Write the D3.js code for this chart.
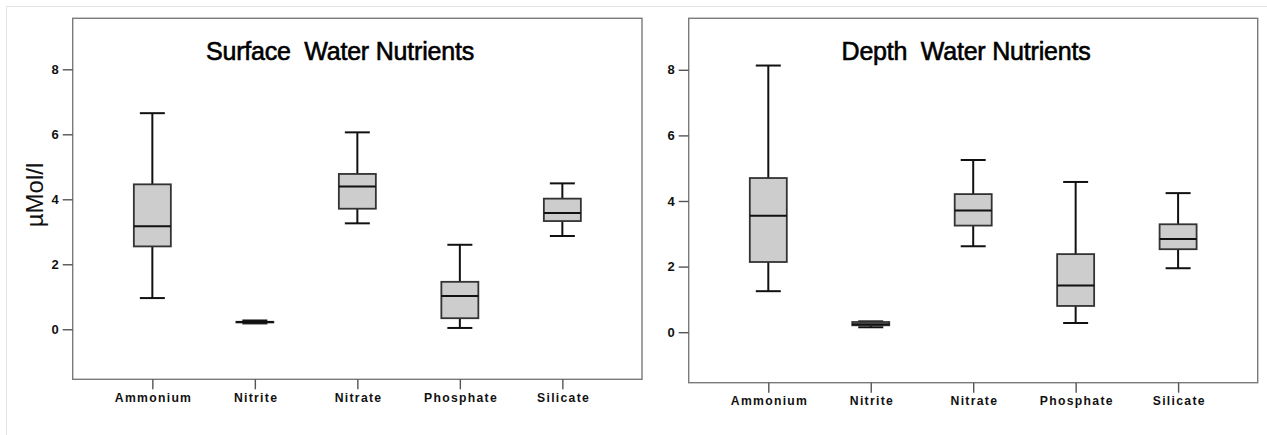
<!DOCTYPE html>
<html>
<head>
<meta charset="utf-8">
<script src="https://cdn.jsdelivr.net/npm/d3@7"></script>
<style>
  body { margin: 0; background: #fff; }
  svg { display: block; font-family: "Liberation Sans", Arial, sans-serif; }
</style>
</head>
<body>
<svg id="chart" width="1267" height="435"></svg>
<script>
// Categories (x axis)
var categories = ["Ammonium", "Nitrite", "Nitrate", "Phosphate", "Silicate"];

// Five-number summaries, one row per category: [low, q1, median, q3, high] in µMol/l
var surfaceBoxes = [
  [0.96, 2.55, 3.17, 4.46, 6.65],
  [0.18, 0.21, 0.22, 0.23, 0.27],
  [3.26, 3.71, 4.39, 4.78, 6.06],
  [0.04, 0.34, 1.02, 1.46, 2.60],
  [2.87, 3.33, 3.58, 4.02, 4.49]
];
var depthBoxes = [
  [1.25, 2.14, 3.55, 4.70, 8.13],
  [0.15, 0.21, 0.24, 0.31, 0.33],
  [2.62, 3.25, 3.71, 4.21, 5.25],
  [0.28, 0.80, 1.42, 2.38, 4.58],
  [1.95, 2.53, 2.84, 3.29, 4.24]
];

// Y ticks and range
var yTicks = [0, 2, 4, 6, 8];
var yDomain = [-1.54, 9.57];

var svg = d3.select("#chart");

// Light outer border
svg.append("rect")
  .attr("x", 6.5)
  .attr("y", 6.5)
  .attr("width", 1400)
  .attr("height", 600)
  .style("fill", "none")
  .style("stroke", "#e4e4e4")
  .style("stroke-width", 1)
  ;

// Draw one box plot panel
function drawPanel(opt) {
  var g = svg.append("g")
    .attr("class", "panel")
    ;

  var x = d3.scalePoint()
    .domain(categories)
    .range([opt.x0, opt.x1])
    .padding(0.777)
    ;

  var y = d3.scaleLinear()
    .domain(yDomain)
    .range([opt.y1, opt.y0])
    ;

  // Frame
  g.append("rect")
    .attr("x", opt.x0)
    .attr("y", opt.y0)
    .attr("width", opt.x1 - opt.x0)
    .attr("height", opt.y1 - opt.y0)
    .style("fill", "none")
    .style("stroke", "#7a7a7a")
    .style("stroke-width", 1.4)
    ;

  // Y axis
  var ya = g.append("g")
    .attr("transform", "translate(" + opt.x0 + ",0)")
    .call(d3.axisLeft(y).tickValues(yTicks).tickSize(10).tickPadding(4).tickFormat(d3.format("d")))
    ;
  ya.select(".domain").remove();
  ya.selectAll("line").style("stroke", "#555").style("stroke-width", 1.4);
  ya.selectAll("text")
    .style("font-size", "13px")
    .style("font-weight", "bold")
    .style("fill", "#111")
    ;

  // X axis
  var xa = g.append("g")
    .attr("transform", "translate(0," + opt.y1 + ")")
    .call(d3.axisBottom(x).tickSize(10).tickPadding(4))
    ;
  xa.select(".domain").remove();
  xa.selectAll("line").style("stroke", "#555").style("stroke-width", 1.4);
  xa.selectAll("text")
    .attr("dx", 0.7)
    .style("font-size", "12.2px")
    .style("font-weight", "bold")
    .style("letter-spacing", "1.3px")
    .style("fill", "#111")
    ;

  // Title
  g.append("text")
    .attr("x", opt.titleX)
    .attr("y", 60)
    .style("text-anchor", "middle")
    .style("font-size", "25px")
    .style("letter-spacing", "-0.2px")
    .style("white-space", "pre")
    .style("fill", "#000")
    .style("stroke", "#000")
    .style("stroke-width", 0.6)
    .text(opt.title)
    ;

  var boxW = 37, capW = 25;

  var box = g.selectAll("g.box")
    .data(opt.data)
    .enter().append("g")
    .attr("class", "box")
    .attr("transform", function(d, i) { return "translate(" + x(categories[i]) + ",0)"; })
    ;

  // Whiskers
  box.append("line")
    .attr("x1", 0).attr("x2", 0)
    .attr("y1", function(d) { return y(d[4]); })
    .attr("y2", function(d) { return y(d[0]); })
    .style("stroke", "#111")
    .style("stroke-width", 2)
    ;
  // Caps
  [0, 4].forEach(function(k) {
    box.append("line")
      .attr("x1", -capW / 2).attr("x2", capW / 2)
      .attr("y1", function(d) { return y(d[k]); })
      .attr("y2", function(d) { return y(d[k]); })
      .style("stroke", "#111")
      .style("stroke-width", 2)
      ;
  });
  // Box
  box.append("rect")
    .attr("x", -boxW / 2)
    .attr("width", boxW)
    .attr("y", function(d) { return y(d[3]); })
    .attr("height", function(d) { return y(d[1]) - y(d[3]); })
    .style("fill", "#cdcdcd")
    .style("stroke", "#333")
    .style("stroke-width", 1.8)
    ;
  // Median
  box.append("line")
    .attr("x1", -boxW / 2).attr("x2", boxW / 2)
    .attr("y1", function(d) { return y(d[2]); })
    .attr("y2", function(d) { return y(d[2]); })
    .style("stroke", "#111")
    .style("stroke-width", 2)
    ;

  return g;
}

drawPanel({
  x0: 72.7, x1: 642, y0: 18.3, y1: 379.3,
  title: "Surface  Water Nutrients", titleX: 340,
  data: surfaceBoxes
});

drawPanel({
  x0: 688.7, x1: 1257.7, y0: 18.3, y1: 382.7,
  title: "Depth  Water Nutrients", titleX: 966,
  data: depthBoxes
});

// Y axis label
svg.append("text")
  .attr("transform", "translate(43,195) rotate(-90)")
  .style("text-anchor", "middle")
  .style("font-size", "24px")
  .style("fill", "#111")
  .text("µMol/l")
  ;
</script>
</body>
</html>
